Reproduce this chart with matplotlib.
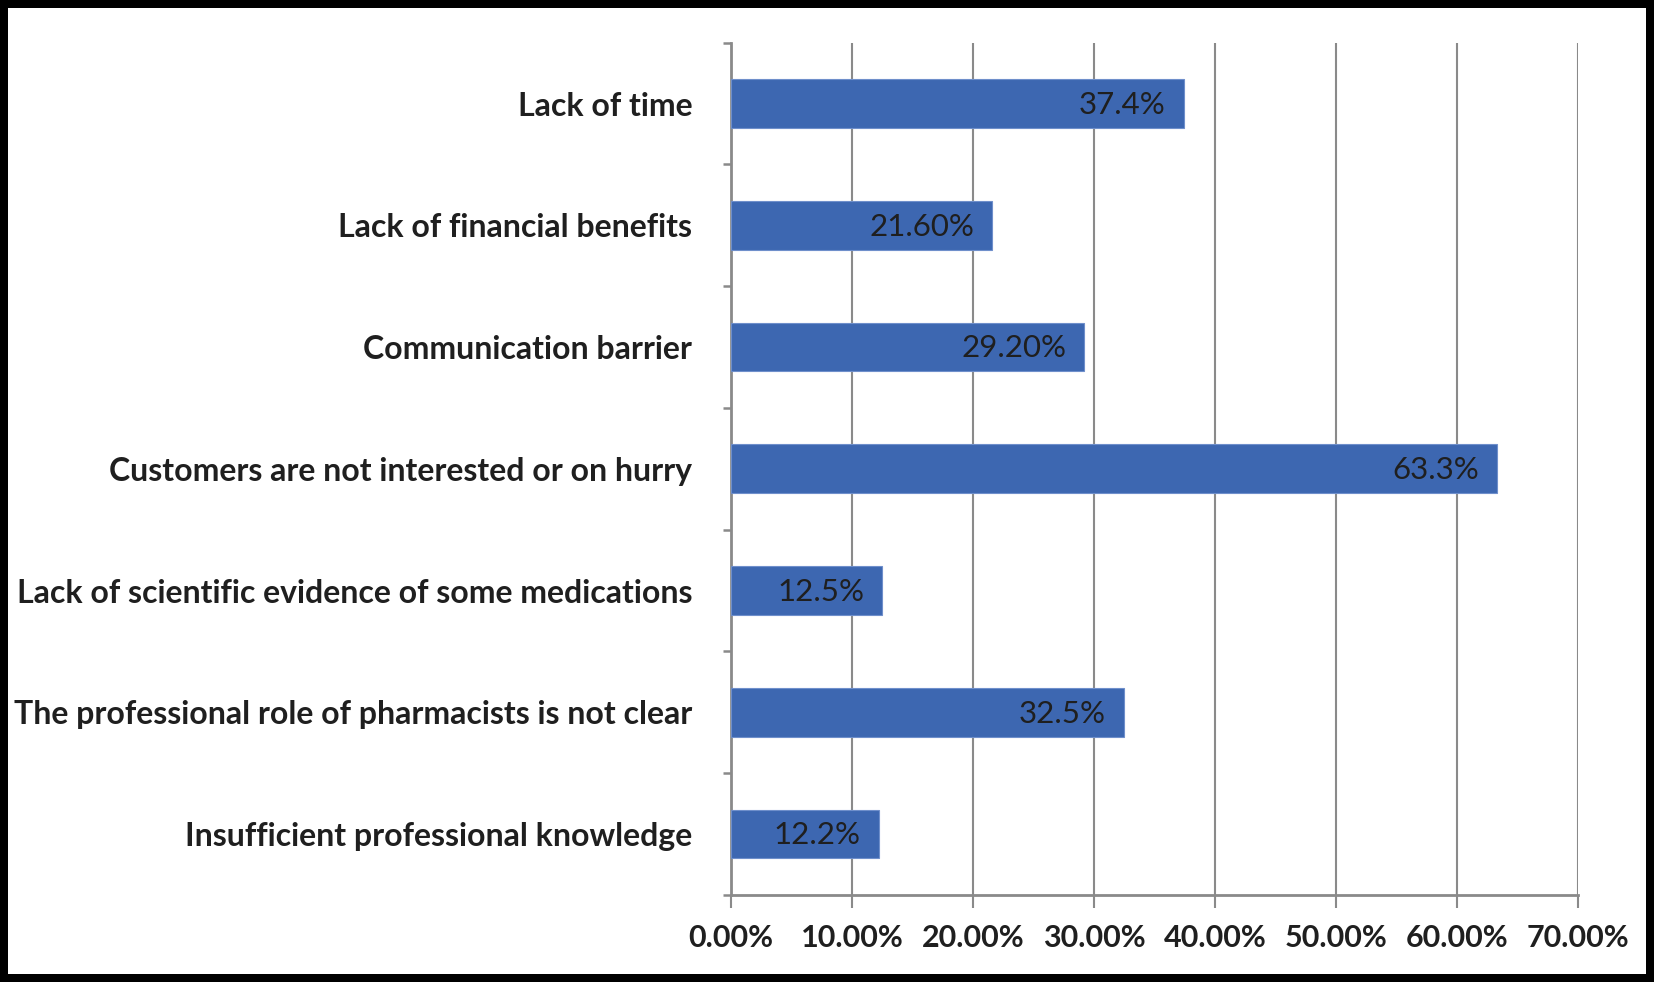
import matplotlib.pyplot as plt
import numpy as np

# data
categories = ['Lack of time',
              'Lack of financial benefits',
              'Communication barrier',
              'Customers are not interested or on hurry',
              'Lack of scientific evidence of some medications',
              'The professional role of pharmacists is not clear',
              'Insufficient professional knowledge']
values = [37.4, 21.6, 29.2, 63.3, 12.5, 32.5, 12.2]
value_labels = ['37.4%', '21.60%', '29.20%', '63.3%', '12.5%', '32.5%', '12.2%']
x_ticks = [0, 10, 20, 30, 40, 50, 60, 70]
x_tick_labels = ['0.00%', '10.00%', '20.00%', '30.00%', '40.00%', '50.00%', '60.00%', '70.00%']

plt.rcParams['font.family'] = ['Lato', 'DejaVu Sans']

fig = plt.figure(figsize=(16.54, 9.82), dpi=100, edgecolor='black', linewidth=11.5)
ax = fig.add_axes([0.442, 0.0886, 0.512, 0.868])

grey = '#8a8a8a'
pos = np.arange(len(categories))
bars = ax.barh(pos, values, height=0.4, color='#3d67b1', edgecolor='#6f8fcb', linewidth=0.8, zorder=3)

# value labels, inside end
for bar, lab in zip(bars, value_labels):
    ax.annotate(lab, (bar.get_width(), bar.get_y() + bar.get_height() / 2),
                xytext=(-13, -1), textcoords='offset points', ha='right', va='center',
                fontsize=22.5, color='#1f1f1f', zorder=4)

ax.set_xlim(0, 70)
ax.set_ylim(len(categories) - 0.5, -0.5)

ax.set_xticks(x_ticks)
ax.set_xticklabels(x_tick_labels, fontsize=22, fontweight='bold', color='#1f1f1f')
ax.set_yticks(pos)
ax.set_yticklabels(categories, fontsize=23, fontweight='bold', color='#1f1f1f')
ax.set_yticks(np.arange(-0.5, len(categories)), minor=True)

ax.tick_params(axis='y', which='major', length=0, pad=28)
ax.tick_params(axis='y', which='minor', length=6, width=1.8, color=grey)
ax.tick_params(axis='x', which='major', length=9, width=1.5, color=grey, pad=12)

ax.grid(axis='x', color=grey, linewidth=1.5, zorder=0)
for s in ['top', 'right']:
    ax.spines[s].set_visible(False)
for s in ['left', 'bottom']:
    ax.spines[s].set_color(grey)
    ax.spines[s].set_linewidth(2)

plt.savefig('out.png', dpi=100)
